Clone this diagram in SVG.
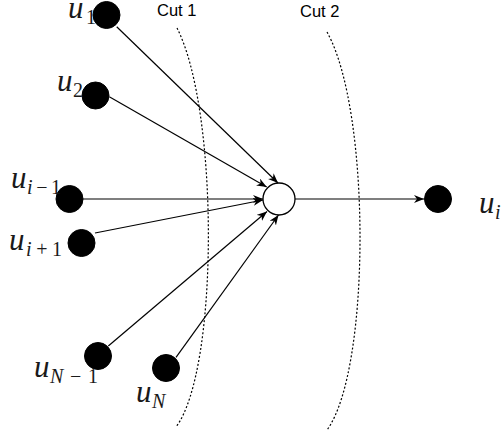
<svg xmlns="http://www.w3.org/2000/svg" width="501" height="437" viewBox="0 0 501 437">
<style>
.dot{fill:#000;stroke:#000;stroke-width:1}
.hub{fill:#fff;stroke:#000;stroke-width:1.3}
.edge{stroke:#000;stroke-width:1.2;fill:none}
.cut{stroke:#000;stroke-width:1.2;fill:none;stroke-dasharray:2 2}
.m{font-family:"Liberation Serif","DejaVu Serif",serif;font-style:italic;fill:#1a1a1a;font-size:31px}
.s{font-family:"Liberation Serif","DejaVu Serif",serif;font-style:italic;fill:#1a1a1a;font-size:20px}
.r{font-style:normal}
.c{font-family:"Liberation Sans",Arial,sans-serif;font-size:16.5px;fill:#000}
</style>
<defs>
<marker id="arr" markerUnits="userSpaceOnUse" markerWidth="12" markerHeight="10" refX="10" refY="4" orient="auto">
<path d="M0,0 L10,4 L0,8 L3,4 Z" fill="#000"/>
</marker>
</defs>
<g id="cuts">
<path class="cut" d="M177 28 C219 110 219 370 176 427"/>
<path class="cut" d="M327 32 C371 110 371 370 327 430"/>
<text class="c" x="157" y="16">Cut 1</text>
<text class="c" x="300" y="17">Cut 2</text>
</g>
<g id="connectors">
<line class="edge" x1="116.7" y1="26.7" x2="278" y2="183" marker-end="url(#arr)"/>
<line class="edge" x1="109.3" y1="96.7" x2="266.7" y2="187" marker-end="url(#arr)"/>
<line class="edge" x1="83" y1="199" x2="263" y2="199" marker-end="url(#arr)"/>
<line class="edge" x1="95" y1="233" x2="263" y2="200" marker-end="url(#arr)"/>
<line class="edge" x1="108.3" y1="346" x2="267" y2="211.5" marker-end="url(#arr)"/>
<line class="edge" x1="176" y1="357.3" x2="278.5" y2="215" marker-end="url(#arr)"/>
<line class="edge" x1="295" y1="199" x2="424" y2="199" marker-end="url(#arr)"/>
</g>
<g id="hub"><circle class="hub" cx="279" cy="199" r="16"/></g>
<g id="n-u1"><circle class="dot" cx="106.5" cy="15" r="13.5"/><text class="m" x="68" y="18">u</text><text class="s r" x="86" y="24">1</text></g>
<g id="n-u2"><circle class="dot" cx="95.5" cy="95.5" r="13.5"/><text class="m" x="57" y="91">u</text><text class="s r" x="73" y="97">2</text></g>
<g id="n-uim1"><circle class="dot" cx="69.5" cy="199" r="13.5"/><text class="m" x="11" y="188">u</text><text class="s" x="27" y="194" textLength="34" lengthAdjust="spacing">i<tspan class="r">−1</tspan></text></g>
<g id="n-uip1"><circle class="dot" cx="81.5" cy="243" r="13.5"/><text class="m" x="9" y="250">u</text><text class="s" x="26" y="256" textLength="36" lengthAdjust="spacing">i<tspan class="r">+1</tspan></text></g>
<g id="n-uNm1"><circle class="dot" cx="98" cy="356" r="13.5"/><text class="m" x="34" y="377">u</text><text class="s" x="50" y="383" textLength="48" lengthAdjust="spacing">N<tspan class="r">−1</tspan></text></g>
<g id="n-uN"><circle class="dot" cx="166" cy="368" r="13.5"/><text class="m" x="136" y="402">u</text><text class="s" x="152" y="408">N</text></g>
<g id="n-ui"><circle class="dot" cx="438" cy="199" r="13.5"/><text class="m" x="479" y="213">u</text><text class="s" x="495" y="219">i</text></g>
</svg>
